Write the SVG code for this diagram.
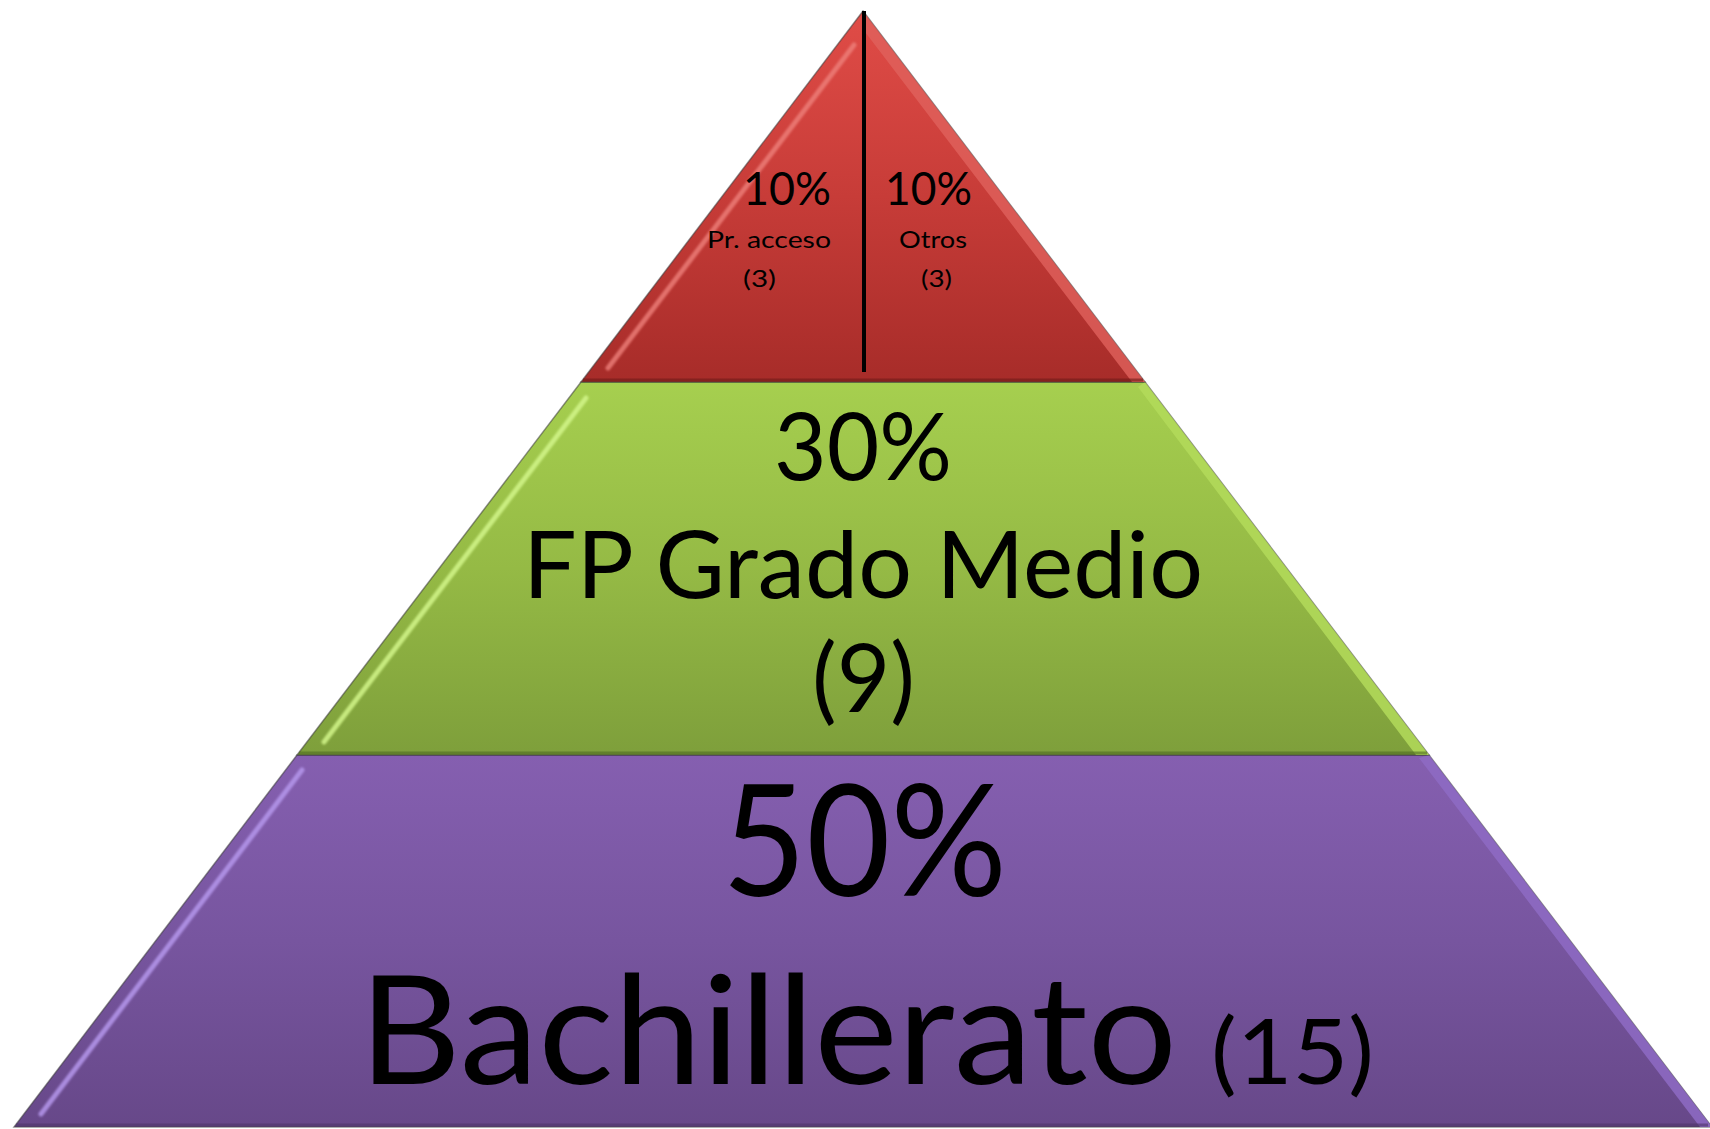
<svg xmlns="http://www.w3.org/2000/svg" width="1710" height="1129" viewBox="0 0 1710 1129">
  <defs>
    <linearGradient id="gRed" x1="0" y1="0" x2="0" y2="1">
      <stop offset="0" stop-color="#e04c47"/>
      <stop offset="0.5" stop-color="#c73c38"/>
      <stop offset="1" stop-color="#a72c29"/>
    </linearGradient>
    <linearGradient id="gGreen" x1="0" y1="0" x2="0" y2="1">
      <stop offset="0" stop-color="#a6cf4f"/>
      <stop offset="0.5" stop-color="#95ba45"/>
      <stop offset="1" stop-color="#7e9f3b"/>
    </linearGradient>
    <linearGradient id="gPurple" x1="0" y1="0" x2="0" y2="1">
      <stop offset="0" stop-color="#855fb0"/>
      <stop offset="0.5" stop-color="#77559f"/>
      <stop offset="1" stop-color="#674889"/>
    </linearGradient>
    <filter id="soft" x="-0.1" y="-0.1" width="1.2" height="1.2">
      <feGaussianBlur stdDeviation="1.2"/>
    </filter>
  </defs>
  <style>
    .outline { stroke: #3a3a3a; stroke-opacity: 0.55; stroke-width: 1.5; stroke-linejoin: miter; }
    .hl { stroke-width: 5; stroke-linecap: round; fill: none; filter: url(#soft); }
    .t { font-family: Lato, "Open Sans", "Liberation Sans", sans-serif; fill: #000; }
  </style>
  <rect width="1710" height="1129" fill="#ffffff"/>

  <!-- bottom layer -->
  <g id="layer-bachillerato">
    <polygon points="297,755 1429,755 1712,1127 14,1127" fill="url(#gPurple)" class="outline"/>
    <polygon points="1429,755 1712,1127 1700,1127 1419,758" fill="#8e6bc4" opacity="0.85"/>
    <line x1="302" y1="770" x2="41" y2="1114" class="hl" stroke="#b596ec" stroke-opacity="0.85"/>
    <line x1="16" y1="1125" x2="1708" y2="1125" stroke="#4e3568" stroke-width="3" stroke-opacity="0.6"/>
    <text class="t" x="722" y="896" font-size="155" textLength="285" lengthAdjust="spacingAndGlyphs">50%</text>
    <text class="t" x="359" y="1084" font-size="152" textLength="818" lengthAdjust="spacingAndGlyphs">Bachillerato</text>
    <text class="t" x="1211" y="1084" font-size="92" textLength="163" lengthAdjust="spacingAndGlyphs">(15)</text>
  </g>

  <!-- middle layer -->
  <g id="layer-fp">
    <polygon points="581,382 1145,382 1429,755 297,755" fill="url(#gGreen)" class="outline"/>
    <polygon points="1145,382 1429,755 1416,755 1138,387" fill="#b3db5a" opacity="0.85"/>
    <line x1="586" y1="398" x2="324" y2="742" class="hl" stroke="#d2f68a" stroke-opacity="0.85"/>
    <line x1="299" y1="753" x2="1427" y2="753" stroke="#4f6a22" stroke-width="3" stroke-opacity="0.6"/>
    <text class="t" x="774" y="480" font-size="93" textLength="178" lengthAdjust="spacingAndGlyphs">30%</text>
    <text class="t" x="523" y="598" font-size="93" textLength="680" lengthAdjust="spacingAndGlyphs">FP Grado Medio</text>
    <text class="t" x="812" y="712" font-size="95" textLength="103" lengthAdjust="spacingAndGlyphs">(9)</text>
  </g>

  <!-- top layer -->
  <g id="layer-top">
    <polygon points="863,11 1145,382 581,382" fill="url(#gRed)" class="outline"/>
    <polygon points="863,11 1145,382 1132,382 862,28" fill="#e0625d" opacity="0.8"/>
    <line x1="854" y1="45" x2="608" y2="368" class="hl" stroke="#ee7f7a" stroke-opacity="0.8"/>
    <line x1="583" y1="380" x2="1143" y2="380" stroke="#6e1a18" stroke-width="3" stroke-opacity="0.6"/>
    <text class="t" x="743" y="205" font-size="46" textLength="88" lengthAdjust="spacingAndGlyphs">10%</text>
    <text class="t" x="707" y="248" font-size="24" textLength="124" lengthAdjust="spacingAndGlyphs">Pr. acceso</text>
    <text class="t" x="743" y="287" font-size="24" textLength="33" lengthAdjust="spacingAndGlyphs">(3)</text>
    <text class="t" x="885" y="205" font-size="46" textLength="87" lengthAdjust="spacingAndGlyphs">10%</text>
    <text class="t" x="899" y="248" font-size="24" textLength="68" lengthAdjust="spacingAndGlyphs">Otros</text>
    <text class="t" x="921" y="287" font-size="24" textLength="31" lengthAdjust="spacingAndGlyphs">(3)</text>
  </g>

  <g id="connectors">
    <line id="divider" x1="864" y1="11" x2="864" y2="372" stroke="#000" stroke-width="4"/>
  </g>
</svg>
